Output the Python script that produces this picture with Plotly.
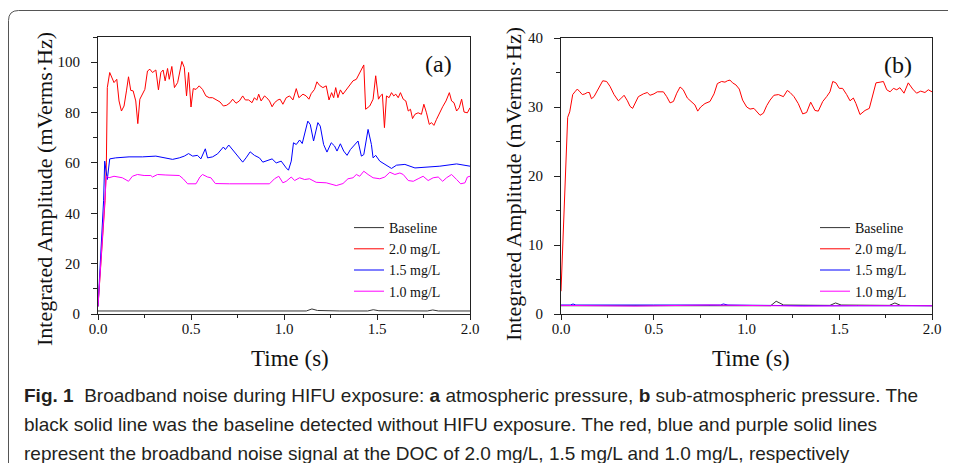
import plotly.graph_objects as go

# ---------------- data: panel (a) atmospheric pressure ----------------
a_red_t = [0, 0.038, 0.045, 0.050, 0.063, 0.086, 0.101, 0.113, 0.126, 0.140, 0.153, 0.164, 0.176, 0.189, 0.203,
           0.214, 0.225, 0.239, 0.252, 0.266, 0.279, 0.293, 0.311, 0.325, 0.338, 0.350, 0.361, 0.374, 0.383, 0.397,
           0.411, 0.428, 0.440, 0.451, 0.464, 0.476, 0.487, 0.500, 0.512, 0.527, 0.544, 0.562, 0.580, 0.598, 0.616,
           0.634, 0.656, 0.674, 0.692, 0.710, 0.724, 0.742, 0.760, 0.778, 0.792, 0.810, 0.828, 0.841, 0.854, 0.864,
           0.877, 0.895, 0.907, 0.922, 0.936, 0.949, 0.967, 0.979, 0.994, 1.012, 1.030, 1.048, 1.066, 1.080, 1.102,
           1.119, 1.134, 1.146, 1.164, 1.177, 1.191, 1.209, 1.227, 1.242, 1.256, 1.267, 1.278, 1.290, 1.303, 1.317,
           1.335, 1.353, 1.371, 1.389, 1.407, 1.429, 1.439, 1.461, 1.479, 1.493, 1.508, 1.518, 1.529, 1.540, 1.551,
           1.565, 1.578, 1.590, 1.601, 1.614, 1.626, 1.641, 1.655, 1.668, 1.680, 1.691, 1.704, 1.721, 1.739, 1.752,
           1.766, 1.781, 1.793, 1.806, 1.820, 1.838, 1.853, 1.871, 1.889, 1.901, 1.914, 1.928, 1.942, 1.955, 1.968,
           1.986, 2.0]
a_red_v = [3, 45, 60, 89.9, 95.9, 91.9, 93.2, 84.6, 80.6, 82.6, 88.6, 94.2, 88.8, 88.6, 84.6,
           75.6, 85.3, 87.3, 89.2, 96.5, 97.2, 95.9, 96.9, 89.0, 95.9, 96.9, 92.6, 97.5, 93.2, 98.3,
           89.9, 91.9, 95.9, 100.3, 97.9, 86.6, 95.9, 82.2, 89.5, 89.2, 90.6, 89.2, 86.6, 85.9, 85.9,
           85.0, 84.2, 82.6, 82.9, 83.9, 85.3, 83.7, 84.6, 86.6, 85.0, 85.0, 83.9, 85.9, 84.9, 87.3,
           84.6, 86.6, 85.9, 84.6, 82.3, 83.9, 85.0, 85.3, 83.3, 85.9, 86.6, 85.0, 89.5, 85.9, 87.3,
           86.6, 85.3, 87.5, 89.2, 92.2, 90.8, 89.9, 90.6, 85.0, 87.9, 85.9, 89.9, 85.9, 89.0, 87.3,
           89.2, 90.6, 92.6, 93.2, 95.9, 98.9, 81.3, 82.6, 85.3, 94.6, 85.3, 86.6, 87.3, 74.0, 86.6,
           85.9, 87.9, 86.6, 87.3, 85.9, 87.9, 85.3, 84.6, 80.6, 81.3, 77.6, 79.3, 79.9, 79.3, 83.3,
           79.9, 75.3, 76.0, 74.9, 77.3, 80.2, 82.3, 84.6, 87.9, 84.6, 83.9, 80.6, 81.9, 85.3, 80.2,
           79.9, 81.9]

a_blue_t = [0, 0.030, 0.036, 0.050, 0.063, 0.095, 0.167, 0.239, 0.311, 0.365, 0.401, 0.437, 0.464, 0.487, 0.509,
            0.535, 0.553, 0.577, 0.589, 0.616, 0.643, 0.674, 0.685, 0.703, 0.724, 0.751, 0.778, 0.796, 0.818, 0.841,
            0.868, 0.886, 0.913, 0.936, 0.958, 0.985, 1.012, 1.024, 1.039, 1.051, 1.066, 1.084, 1.098, 1.111, 1.128,
            1.141, 1.159, 1.182, 1.195, 1.213, 1.231, 1.254, 1.272, 1.285, 1.303, 1.321, 1.339, 1.357, 1.375, 1.398,
            1.416, 1.429, 1.452, 1.470, 1.479, 1.493, 1.515, 1.551, 1.578, 1.605, 1.650, 1.704, 1.766, 1.838, 1.928,
            2.0]
a_blue_v = [3, 45, 60.7, 53.4, 61.6, 62.0, 62.4, 62.4, 62.7, 62.0, 61.4, 62.0, 62.7, 63.7, 62.7,
            63.0, 61.6, 65.6, 62.0, 62.4, 63.6, 66.3, 65.3, 67.1, 65.3, 62.7, 60.3, 62.0, 64.4, 63.0,
            62.0, 60.3, 61.1, 61.6, 60.0, 60.7, 58.0, 57.1, 60.7, 68.0, 67.3, 69.1, 67.7, 72.0, 76.6,
            75.3, 68.7, 76.0, 74.6, 67.3, 64.3, 68.0, 66.7, 64.7, 67.6, 64.7, 63.0, 65.3, 66.7, 68.7,
            62.7, 63.3, 73.3, 67.3, 62.0, 63.0, 60.7, 59.1, 57.8, 59.1, 59.4, 58.0, 58.4, 58.7, 59.6,
            58.7]

a_mag_t = [0, 0.035, 0.045, 0.059, 0.086, 0.131, 0.164, 0.185, 0.212, 0.248, 0.284, 0.293, 0.320, 0.365, 0.437,
           0.458, 0.482, 0.527, 0.548, 0.562, 0.589, 0.607, 0.631, 0.706, 0.796, 0.922, 0.949, 0.972, 0.994, 1.012,
           1.039, 1.057, 1.084, 1.111, 1.137, 1.173, 1.227, 1.281, 1.317, 1.344, 1.371, 1.389, 1.407, 1.429, 1.452,
           1.479, 1.515, 1.542, 1.569, 1.596, 1.623, 1.641, 1.668, 1.695, 1.721, 1.748, 1.775, 1.802, 1.829, 1.853,
           1.874, 1.901, 1.928, 1.950, 1.973, 1.986, 2.0]
a_mag_v = [3, 45, 54.7, 54.1, 54.7, 54.1, 52.7, 54.7, 55.4, 55.0, 55.0, 54.4, 55.4, 55.2, 55.0,
           53.7, 51.7, 51.7, 54.4, 55.4, 54.4, 54.1, 51.8, 51.7, 51.7, 51.7, 53.7, 54.7, 52.1, 52.7,
           54.4, 53.0, 54.1, 53.4, 53.7, 52.3, 52.1, 51.0, 51.8, 53.7, 54.1, 55.4, 54.7, 56.7, 55.4,
           54.1, 53.7, 54.4, 56.3, 55.4, 56.0, 55.4, 53.0, 52.7, 53.7, 54.7, 53.0, 54.1, 54.4, 52.7,
           54.1, 55.4, 53.4, 51.7, 52.1, 54.4, 54.7]

a_base_t = [0, 0.3, 0.6, 1.0, 1.12, 1.15, 1.18, 1.3, 1.45, 1.48, 1.51, 1.77, 1.80, 1.83, 2.0]
a_base_v = [1.2, 1.2, 1.1, 1.2, 1.2, 2.0, 1.4, 1.2, 1.2, 1.7, 1.3, 1.2, 1.6, 1.2, 1.2]

# ---------------- data: panel (b) sub-atmospheric pressure ----------------
b_red_t = [0, 0.036, 0.047, 0.063, 0.075, 0.088, 0.102, 0.115, 0.129, 0.142, 0.153, 0.164, 0.178, 0.201, 0.225,
           0.246, 0.264, 0.286, 0.309, 0.322, 0.340, 0.358, 0.372, 0.386, 0.399, 0.417, 0.444, 0.465, 0.480, 0.501,
           0.519, 0.552, 0.570, 0.588, 0.606, 0.624, 0.642, 0.659, 0.681, 0.704, 0.722, 0.737, 0.753, 0.776, 0.803,
           0.825, 0.843, 0.866, 0.884, 0.897, 0.911, 0.925, 0.943, 0.961, 0.979, 1.001, 1.019, 1.040, 1.055, 1.073,
           1.091, 1.109, 1.127, 1.148, 1.172, 1.199, 1.220, 1.235, 1.256, 1.279, 1.303, 1.324, 1.346, 1.369, 1.387,
           1.411, 1.432, 1.450, 1.465, 1.482, 1.500, 1.518, 1.540, 1.558, 1.576, 1.590, 1.612, 1.639, 1.662, 1.680,
           1.698, 1.720, 1.738, 1.756, 1.774, 1.792, 1.810, 1.827, 1.849, 1.872, 1.896, 1.917, 1.939, 1.962, 1.980,
           2.0]
b_red_v = [3.3, 28.5, 29.3, 31.8, 32.2, 32.6, 32.2, 31.8, 31.9, 32.1, 32.1, 31.2, 31.5, 32.7, 33.8,
           33.7, 33.0, 31.8, 30.9, 31.2, 31.7, 30.9, 30.1, 29.8, 30.6, 31.5, 31.9, 32.1, 31.7, 31.9,
           32.2, 32.2, 31.5, 30.6, 30.8, 32.0, 32.9, 32.5, 31.3, 30.8, 30.3, 29.4, 30.0, 30.5, 30.8,
           31.9, 33.4, 33.7, 33.6, 33.8, 33.9, 33.5, 33.2, 32.6, 31.0, 30.0, 29.7, 29.8, 29.4, 28.8,
           29.1, 30.2, 31.0, 31.7, 31.8, 31.5, 32.4, 32.1, 31.5, 30.5, 29.0, 29.2, 30.7, 29.5, 29.4,
           30.8, 31.5, 32.2, 33.7, 33.5, 32.7, 32.7, 31.8, 30.9, 31.3, 30.5, 28.9, 29.5, 29.8, 31.5,
           33.5, 33.6, 33.7, 32.5, 32.2, 32.7, 32.5, 32.8, 32.0, 33.5, 32.6, 32.0, 32.3, 32.1, 32.5,
           32.2]

b_blue_t = [0, 0.05, 0.065, 0.08, 0.5, 0.86, 0.875, 0.9, 1.3, 2.0]
b_blue_v = [1.3, 1.3, 1.45, 1.3, 1.3, 1.3, 1.45, 1.3, 1.2, 1.2]

b_mag_t = [0, 0.3, 0.4, 0.8, 1.0, 1.3, 1.6, 2.0]
b_mag_v = [1.25, 1.2, 1.15, 1.3, 1.2, 1.15, 1.2, 1.2]

b_base_t = [0, 0.5, 1.0, 1.13, 1.16, 1.2, 1.45, 1.48, 1.51, 1.77, 1.80, 1.83, 2.0]
b_base_v = [1.2, 1.2, 1.2, 1.2, 1.85, 1.3, 1.25, 1.6, 1.3, 1.25, 1.6, 1.25, 1.2]

series_names = ["Baseline", "2.0 mg/L", "1.5 mg/L", "1.0 mg/L"]
series_colors = ["#333333", "#FF0000", "#0000FF", "#FF00FF"]

x_ticks = [0.0, 0.5, 1.0, 1.5, 2.0]
x_tick_text = ["0.0", "0.5", "1.0", "1.5", "2.0"]
a_y_ticks = [0, 20, 40, 60, 80, 100]
b_y_ticks = [0, 10, 20, 30, 40]

# ---------------- figure ----------------
# The page body has an 8 px margin, so the figure is 8 px smaller than the
# window and every layout position is expressed in window pixels minus 8.
OFF = 8
W, H = 956 - OFF, 463 - OFF
SERIF = "Liberation Serif, Times New Roman, serif"


def px(x):
    return (x - OFF) / W


def py(y):
    return 1 - (y - OFF) / H


fig = go.Figure()

panel_a = [(a_base_t, a_base_v), (a_red_t, a_red_v), (a_blue_t, a_blue_v), (a_mag_t, a_mag_v)]
panel_b = [(b_base_t, b_base_v), (b_red_t, b_red_v), (b_blue_t, b_blue_v), (b_mag_t, b_mag_v)]

for (t, v), name, col in zip(panel_a, series_names, series_colors):
    fig.add_trace(go.Scatter(x=t, y=v, mode="lines", name=name, line=dict(color=col, width=1),
                             xaxis="x", yaxis="y", legend="legend"))
for (t, v), name, col in zip(panel_b, series_names, series_colors):
    fig.add_trace(go.Scatter(x=t, y=v, mode="lines", name=name, line=dict(color=col, width=1),
                             xaxis="x2", yaxis="y2", legend="legend2"))

axis_common = dict(showline=True, linecolor="#222222", linewidth=1, mirror=True, showgrid=False,
                   zeroline=False, ticks="outside", ticklen=6, tickwidth=1, tickcolor="#222222",
                   automargin=False,
                   tickfont=dict(family=SERIF, size=15, color="#111111"))

xa = dict(axis_common, range=[0, 2.0], tickvals=x_ticks, ticktext=x_tick_text, ticklen=5,
          ticklabelstandoff=-4,
          minor=dict(dtick=0.25, tick0=0, ticklen=3, ticks="outside", tickcolor="#222222"))

legend_common = dict(xanchor="left", yanchor="top", bgcolor="rgba(0,0,0,0)", borderwidth=0,
                     font=dict(family=SERIF, size=14, color="#111111"), tracegroupgap=0)

fig.update_layout(
    width=W, height=H,
    margin=dict(l=0, r=0, t=0, b=0, pad=0, autoexpand=False),
    paper_bgcolor="white", plot_bgcolor="white",
    xaxis=dict(xa, domain=[px(98), px(470)], anchor="y"),
    yaxis=dict(axis_common, domain=[py(314), py(37)], range=[0, 110], tickvals=a_y_ticks, anchor="x",
               ticklabelstandoff=8,
               minor=dict(dtick=10, tick0=0, ticklen=4, ticks="outside", tickcolor="#222222")),
    xaxis2=dict(xa, domain=[px(561), px(932)], anchor="y2"),
    yaxis2=dict(axis_common, domain=[py(314), py(38)], range=[0, 40], tickvals=b_y_ticks, anchor="x2",
                ticklabelstandoff=8,
                minor=dict(dtick=5, tick0=0, ticklen=4, ticks="outside", tickcolor="#222222")),
    legend=dict(legend_common, x=px(349), y=py(212)),
    legend2=dict(legend_common, x=px(815), y=py(212)),
    showlegend=True,
)

ann = []
title_txt = "Integrated Amplitude (mVerms·Hz)"
ann.append(dict(x=px(45), y=py(189), text=title_txt, textangle=-90,
                font=dict(family=SERIF, size=22, color="#111111")))
ann.append(dict(x=px(514), y=py(184), text=title_txt, textangle=-90,
                font=dict(family=SERIF, size=22, color="#111111")))
ann.append(dict(x=px(290), y=py(358), text="Time (s)",
                font=dict(family=SERIF, size=23, color="#111111")))
ann.append(dict(x=px(751), y=py(358), text="Time (s)",
                font=dict(family=SERIF, size=23, color="#111111")))
ann.append(dict(x=px(438), y=py(64), text="(a)",
                font=dict(family=SERIF, size=24, color="#111111")))
ann.append(dict(x=px(898), y=py(65), text="(b)",
                font=dict(family=SERIF, size=24, color="#111111")))
for a in ann:
    a.update(xanchor="center", yanchor="middle")

CAP = "Liberation Sans, Arial, sans-serif"
cap_lines = [
    "<b>Fig. 1</b>&nbsp; Broadband noise during HIFU exposure: <b>a</b> atmospheric pressure, <b>b</b> sub-atmospheric pressure. The",
    "black solid line was the baseline detected without HIFU exposure. The red, blue and purple solid lines",
    "represent the broadband noise signal at the DOC of 2.0 mg/L, 1.5 mg/L and 1.0 mg/L, respectively",
]
for i, line in enumerate(cap_lines):
    ann.append(dict(x=px(22), y=py(395 + 29 * i), xanchor="left", yanchor="middle", text=line,
                    font=dict(family=CAP, size=19, color="#231F20")))

for a in ann:
    a.setdefault("xref", "paper")
    a.setdefault("yref", "paper")
    a.setdefault("showarrow", False)
fig.update_layout(annotations=ann)

# rounded frame around the figure (top-left corner visible)
x0, yt = px(8.5), py(10.5)
rx, ry = 10 / W, 10 / H
fig.add_shape(type="path", xref="paper", yref="paper",
              path=f"M {x0},-0.1 L {x0},{yt - ry} Q {x0},{yt} {x0 + rx},{yt} L 1.1,{yt}",
              line=dict(color="#555555", width=1))

fig.write_html("out.html")
